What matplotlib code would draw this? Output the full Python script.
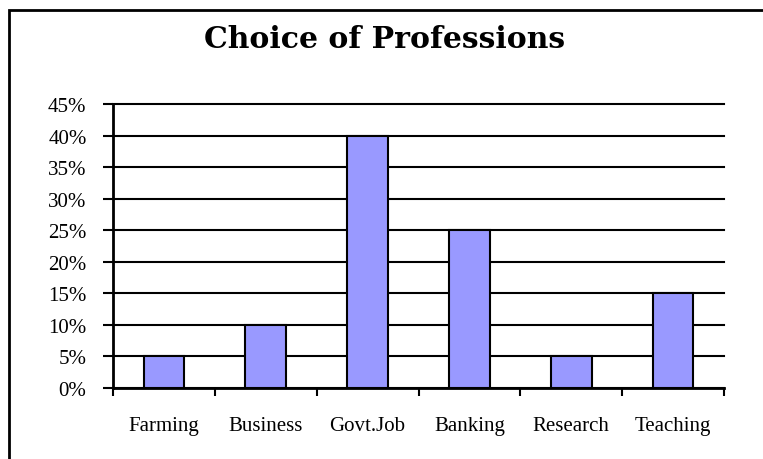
"""Bar chart: choice of professions (Excel-style)."""

import matplotlib
matplotlib.use('Agg')
import matplotlib.pyplot as plt
from matplotlib.patches import Rectangle


PROFESSIONS = ['Farming', 'Business', 'Govt.Job', 'Banking', 'Research', 'Teaching']
SHARES = [5, 10, 40, 25, 5, 15]
Y_TICKS = [0, 5, 10, 15, 20, 25, 30, 35, 40, 45]
TITLE = 'Choice of Professions'

W_PX, H_PX = 763, 460
BAR_COLOR = '#9999FF'


def px_box(left, top, right, bottom):
    """Convert a pixel box into figure fractions for add_axes."""
    return [left / W_PX, 1 - bottom / H_PX, (right - left) / W_PX, (bottom - top) / H_PX]


def main():
    plt.rcParams['font.family'] = ['Liberation Serif', 'DejaVu Serif']
    fig = plt.figure(figsize = (W_PX / 100, H_PX / 100), dpi = 100)

    # chart frame, cut off on the right and bottom like the source
    fig.patches.append(Rectangle(
        (8.5 / W_PX, -0.2), 1.2, 1.2 - 10.5 / H_PX,
        transform = fig.transFigure, fill = False, edgecolor = 'black', linewidth = 2.0,
    ))

    fig.text(385 / W_PX, 1 - 40 / H_PX, TITLE, ha = 'center', va = 'center',
             fontsize = 21.5, fontweight = 'heavy', family = ['DejaVu Serif'])

    ax = fig.add_axes(px_box(113, 105, 724, 389))
    positions = range(len(PROFESSIONS))
    ax.bar(positions, SHARES, width = 0.4, color = BAR_COLOR,
           edgecolor = 'black', linewidth = 1.5, zorder = 3)

    ax.set_xlim(-0.5, len(PROFESSIONS) - 0.5)
    ax.set_ylim(0, Y_TICKS[-1])

    ax.set_yticks(Y_TICKS)
    ax.set_yticklabels([f'{value}%' for value in Y_TICKS])
    ax.tick_params(axis = 'y', direction = 'out', length = 7, width = 1.5,
                   pad = 12, labelsize = 15)

    ax.set_xticks([p - 0.5 for p in range(len(PROFESSIONS) + 1)])
    ax.set_xticklabels([])
    ax.tick_params(axis = 'x', which = 'major', direction = 'out', length = 6, width = 1.5)
    ax.set_xticks(list(positions), minor = True)
    ax.set_xticklabels(PROFESSIONS, minor = True)
    ax.tick_params(axis = 'x', which = 'minor', length = 0, pad = 20, labelsize = 15)

    ax.yaxis.grid(True, color = 'black', linewidth = 1.5, zorder = 1)
    for gridline in ax.get_ygridlines():
        gridline.set_clip_on(False)
    ax.set_axisbelow(True)
    for side in ('top', 'right'):
        ax.spines[side].set_visible(False)
    for side in ('left', 'bottom'):
        ax.spines[side].set_linewidth(2.0)

    fig.savefig('out.png', dpi = 100)
    plt.close(fig)


if __name__ == '__main__':
    main()
